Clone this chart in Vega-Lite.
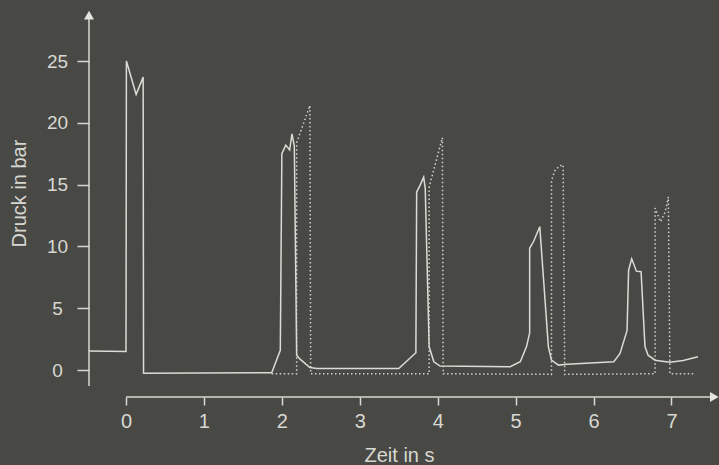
{
  "$schema": "https://vega.github.io/schema/vega-lite/v6.json",
  "width": 630,
  "height": 389,
  "autosize": {"type": "none"},
  "padding": {"left": 89, "top": 8, "right": 0, "bottom": 68},
  "background": "#484845",
  "config": {"view": {"stroke": null}, "font": "Liberation Sans"},
  "datasets": {
    "curves": [
      {"s": "solid", "i": 1, "t": -0.475, "p": 1.55},
      {"s": "solid", "i": 2, "t": 0, "p": 1.5},
      {"s": "solid", "i": 3, "t": 0.005, "p": 25},
      {"s": "solid", "i": 4, "t": 0.13, "p": 22.3},
      {"s": "solid", "i": 5, "t": 0.22, "p": 23.7},
      {"s": "solid", "i": 6, "t": 0.225, "p": -0.25},
      {"s": "solid", "i": 7, "t": 1.87, "p": -0.22},
      {"s": "solid", "i": 8, "t": 1.98, "p": 1.6},
      {"s": "solid", "i": 9, "t": 2.0, "p": 17.5},
      {"s": "solid", "i": 10, "t": 2.05, "p": 18.2},
      {"s": "solid", "i": 11, "t": 2.1, "p": 17.8},
      {"s": "solid", "i": 12, "t": 2.13, "p": 19.1},
      {"s": "solid", "i": 13, "t": 2.16, "p": 18.1},
      {"s": "solid", "i": 14, "t": 2.19, "p": 1.2},
      {"s": "solid", "i": 15, "t": 2.23, "p": 0.9},
      {"s": "solid", "i": 16, "t": 2.36, "p": 0.2},
      {"s": "solid", "i": 17, "t": 2.45, "p": 0.13},
      {"s": "solid", "i": 18, "t": 3.5, "p": 0.13},
      {"s": "solid", "i": 19, "t": 3.72, "p": 1.4},
      {"s": "solid", "i": 20, "t": 3.73, "p": 14.4},
      {"s": "solid", "i": 21, "t": 3.77, "p": 14.9},
      {"s": "solid", "i": 22, "t": 3.82, "p": 15.6},
      {"s": "solid", "i": 23, "t": 3.84, "p": 14.7},
      {"s": "solid", "i": 24, "t": 3.89, "p": 1.9},
      {"s": "solid", "i": 25, "t": 3.95, "p": 0.67},
      {"s": "solid", "i": 26, "t": 4.03, "p": 0.32},
      {"s": "solid", "i": 27, "t": 4.93, "p": 0.27},
      {"s": "solid", "i": 28, "t": 5.06, "p": 0.67},
      {"s": "solid", "i": 29, "t": 5.14, "p": 1.9},
      {"s": "solid", "i": 30, "t": 5.18, "p": 3.0},
      {"s": "solid", "i": 31, "t": 5.18, "p": 9.85},
      {"s": "solid", "i": 32, "t": 5.23, "p": 10.4},
      {"s": "solid", "i": 33, "t": 5.31, "p": 11.6},
      {"s": "solid", "i": 34, "t": 5.42, "p": 1.9},
      {"s": "solid", "i": 35, "t": 5.46, "p": 0.8},
      {"s": "solid", "i": 36, "t": 5.55, "p": 0.4},
      {"s": "solid", "i": 37, "t": 5.66, "p": 0.46},
      {"s": "solid", "i": 38, "t": 6.26, "p": 0.67},
      {"s": "solid", "i": 39, "t": 6.34, "p": 1.35},
      {"s": "solid", "i": 40, "t": 6.43, "p": 3.2},
      {"s": "solid", "i": 41, "t": 6.45, "p": 8.1},
      {"s": "solid", "i": 42, "t": 6.49, "p": 9.0},
      {"s": "solid", "i": 43, "t": 6.55, "p": 8.0},
      {"s": "solid", "i": 44, "t": 6.61, "p": 7.95},
      {"s": "solid", "i": 45, "t": 6.66, "p": 1.9},
      {"s": "solid", "i": 46, "t": 6.7, "p": 1.2},
      {"s": "solid", "i": 47, "t": 6.79, "p": 0.8},
      {"s": "solid", "i": 48, "t": 6.98, "p": 0.64},
      {"s": "solid", "i": 49, "t": 7.15, "p": 0.78},
      {"s": "solid", "i": 50, "t": 7.34, "p": 1.08},
      {"s": "dotted", "i": 1, "t": 1.87, "p": -0.3},
      {"s": "dotted", "i": 2, "t": 2.19, "p": -0.3},
      {"s": "dotted", "i": 3, "t": 2.19, "p": 18.4},
      {"s": "dotted", "i": 4, "t": 2.36, "p": 21.4},
      {"s": "dotted", "i": 5, "t": 2.37, "p": -0.3},
      {"s": "dotted", "i": 6, "t": 3.89, "p": -0.3},
      {"s": "dotted", "i": 7, "t": 3.89, "p": 14.8},
      {"s": "dotted", "i": 8, "t": 4.06, "p": 18.8},
      {"s": "dotted", "i": 9, "t": 4.07, "p": -0.3},
      {"s": "dotted", "i": 10, "t": 5.46, "p": -0.35},
      {"s": "dotted", "i": 11, "t": 5.46, "p": 15.3},
      {"s": "dotted", "i": 12, "t": 5.5, "p": 16.1},
      {"s": "dotted", "i": 13, "t": 5.56, "p": 16.5},
      {"s": "dotted", "i": 14, "t": 5.61, "p": 16.6},
      {"s": "dotted", "i": 15, "t": 5.63, "p": -0.35},
      {"s": "dotted", "i": 16, "t": 6.79, "p": -0.3},
      {"s": "dotted", "i": 17, "t": 6.79, "p": 13.1},
      {"s": "dotted", "i": 18, "t": 6.86, "p": 12.0},
      {"s": "dotted", "i": 19, "t": 6.92, "p": 12.8},
      {"s": "dotted", "i": 20, "t": 6.96, "p": 14.0},
      {"s": "dotted", "i": 21, "t": 6.98, "p": -0.3},
      {"s": "dotted", "i": 22, "t": 7.28, "p": -0.3}
    ]
  },
  "layer": [
    {
      "data": {"name": "curves"},
      "transform": [{"filter": "datum.s == 'solid'"}],
      "mark": {"type": "line", "color": "#dcdcd6", "strokeWidth": 1.5},
      "encoding": {
        "x": {
          "field": "t", "type": "quantitative",
          "scale": {"domain": [-0.475, 7.61], "nice": false, "zero": false},
          "axis": {
            "values": [0, 1, 2, 3, 4, 5, 6, 7], "format": "d",
            "domain": false, "grid": false,
            "tickColor": "#d8d8d2", "tickSize": 8, "tickWidth": 1.5,
            "labelColor": "#d8d8d2", "labelFontSize": 20, "labelPadding": 6,
            "labelFlush": false, "labelOverlap": false,
            "title": "Zeit in s", "titleFontSize": 20, "titleFontWeight": "normal",
            "titleColor": "#d8d8d2", "titleX": 310, "titleY": 64, "titleBaseline": "alphabetic"
          }
        },
        "y": {
          "field": "p", "type": "quantitative",
          "scale": {"domain": [-2.18, 29.29], "nice": false, "zero": false},
          "axis": {
            "values": [0, 5, 10, 15, 20, 25], "format": "d",
            "domain": false, "grid": false,
            "tickColor": "#d8d8d2", "tickSize": 12, "tickWidth": 1.5,
            "labelColor": "#d8d8d2", "labelFontSize": 19, "labelPadding": 20,
            "labelAlign": "center", "labelBaseline": "middle",
            "title": "Druck in bar", "titleFontSize": 20, "titleFontWeight": "normal",
            "titleColor": "#d8d8d2", "titleAngle": -90, "titleX": -64, "titleY": 185,
            "titleBaseline": "alphabetic", "titleAlign": "center"
          }
        },
        "order": {"field": "i", "type": "quantitative"}
      }
    },
    {
      "data": {"name": "curves"},
      "transform": [{"filter": "datum.s == 'dotted'"}],
      "mark": {"type": "line", "color": "#d4d4ce", "strokeWidth": 1.5, "strokeDash": [1.5, 2.5]},
      "encoding": {
        "x": {"field": "t", "type": "quantitative"},
        "y": {"field": "p", "type": "quantitative"},
        "order": {"field": "i", "type": "quantitative"}
      }
    },
    {
      "data": {"values": [{}]},
      "mark": {"type": "rule", "color": "#d8d8d2", "strokeWidth": 1.5},
      "encoding": {
        "x": {"datum": 0}, "x2": {"datum": 7.5},
        "y": {"datum": -2.18}
      }
    },
    {
      "data": {"values": [{}]},
      "mark": {"type": "rule", "color": "#d8d8d2", "strokeWidth": 1.5},
      "encoding": {
        "x": {"datum": -0.475},
        "y": {"datum": -1.3}, "y2": {"datum": 28.4}
      }
    },
    {
      "data": {"values": [{}]},
      "mark": {"type": "point", "shape": "triangle-up", "filled": true, "color": "#e4e4de", "size": 100, "opacity": 1},
      "encoding": {"x": {"datum": -0.475}, "y": {"datum": 28.72}}
    },
    {
      "data": {"values": [{}]},
      "mark": {"type": "point", "shape": "triangle-right", "filled": true, "color": "#e4e4de", "size": 100, "opacity": 1},
      "encoding": {"x": {"datum": 7.55}, "y": {"datum": -2.18}}
    }
  ]
}
